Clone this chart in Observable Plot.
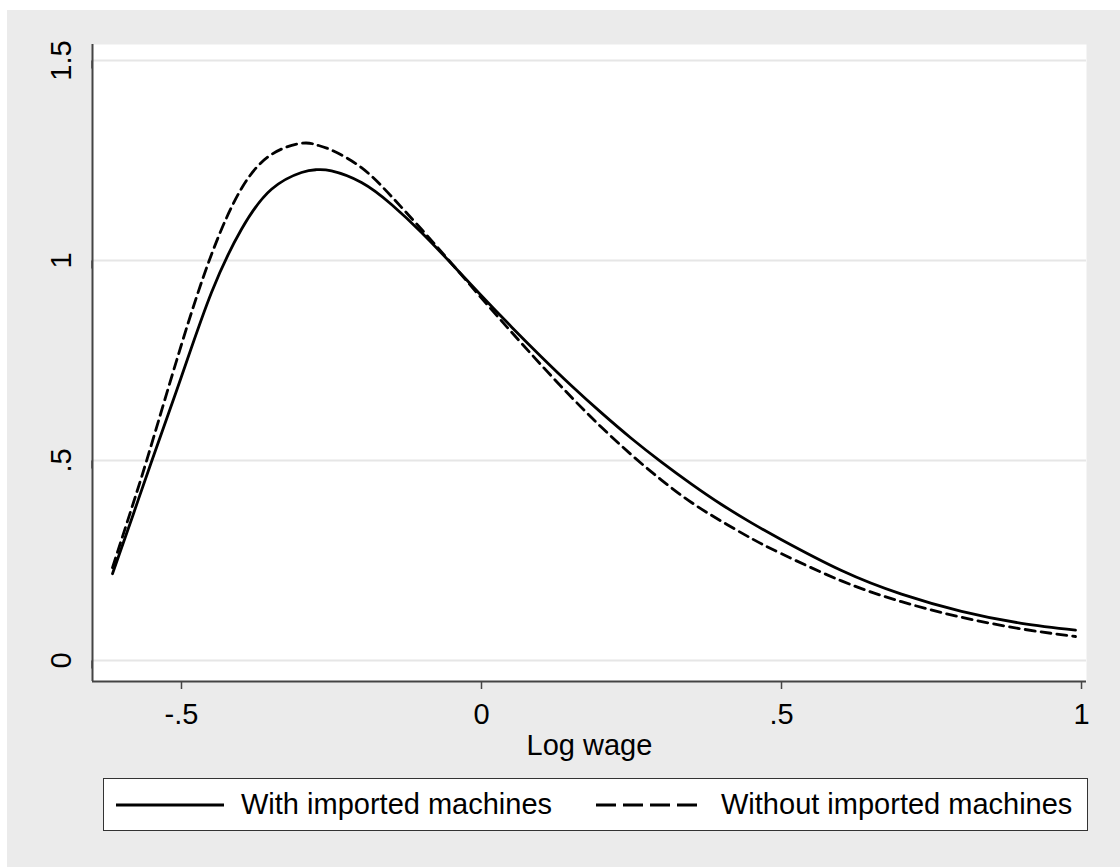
<!DOCTYPE html>
<html>
<head>
<meta charset="utf-8">
<script src="https://cdn.jsdelivr.net/npm/d3@7"></script>
<script src="https://cdn.jsdelivr.net/npm/@observablehq/plot@0.6"></script>
<style>
  html, body { margin: 0; padding: 0; background: #ffffff; }
  #root { position: relative; width: 1120px; height: 867px; overflow: hidden; font-family: Arial, "Liberation Sans", sans-serif; }
  #bg { position: absolute; left: 7px; top: 10px; width: 1113px; height: 857px; background: #ebebeb; }
  #chart { position: absolute; left: 0; top: 0; }
  #legend { position: absolute; left: 103px; top: 778px; width: 983px; height: 51px; background: #fff; border: 1.5px solid #333; }
  .item { position: absolute; top: 0; height: 51px; display: flex; align-items: center; font-size: 29px; color: #000; white-space: nowrap; }
  .item svg { display: block; margin-right: 17px; }
</style>
</head>
<body>
<div id="root">
  <div id="bg"></div>
  <div id="chart"></div>
  <div id="legend"></div>
</div>
<script>
// Log wage grid (x) and kernel density values
const logWage = [-0.615, -0.58, -0.55, -0.5, -0.45, -0.4, -0.35, -0.3, -0.275, -0.25, -0.2, -0.15, -0.1, -0.05, 0, 0.05, 0.1, 0.15, 0.2, 0.25, 0.3, 0.35, 0.4, 0.45, 0.5, 0.6, 0.7, 0.8, 0.9, 0.99];
const withImported = [0.217, 0.367, 0.497, 0.71, 0.92, 1.078, 1.178, 1.22, 1.227, 1.224, 1.195, 1.14, 1.07, 0.992, 0.912, 0.834, 0.759, 0.687, 0.619, 0.555, 0.496, 0.441, 0.39, 0.344, 0.302, 0.225, 0.166, 0.123, 0.093, 0.076];
const withoutImported = [0.232, 0.395, 0.54, 0.79, 1.015, 1.18, 1.265, 1.293, 1.289, 1.276, 1.232, 1.16, 1.078, 0.993, 0.906, 0.821, 0.738, 0.658, 0.583, 0.514, 0.451, 0.395, 0.348, 0.305, 0.267, 0.199, 0.147, 0.108, 0.079, 0.060];
const seriesNames = ["With imported machines", "Without imported machines"];
const xTicks = [-0.5, 0, 0.5, 1];
const yTicks = [0, 0.5, 1, 1.5];
const xDomain = [-0.6483, 1.0083];
const yDomain = [-0.0525, 1.54];

const fmt = d => d === 0 ? "0" : String(d).replace("0.", ".");

const rows = [];
logWage.forEach((x, i) => {
  rows.push({x, y: withImported[i], s: seriesNames[0]});
  rows.push({x, y: withoutImported[i], s: seriesNames[1]});
});
const solid = rows.filter(r => r.s === seriesNames[0]);
const dashed = rows.filter(r => r.s === seriesNames[1]);

const font = "Arial, 'Liberation Sans', sans-serif";

const chart = Plot.plot({
  width: 1120,
  height: 770,
  marginLeft: 92,
  marginRight: 34,
  marginTop: 44,
  marginBottom: 89,
  style: { background: "transparent", fontFamily: font, fontSize: "29px", color: "#000", overflow: "visible" },
  x: { domain: xDomain, ticks: xTicks },
  y: { domain: yDomain, ticks: yTicks },
  marks: [
    Plot.frame({ fill: "#ffffff", stroke: null }),
    Plot.gridY(yTicks, { stroke: "#e6e6e6", strokeOpacity: 1, strokeWidth: 2 }),
    Plot.axisX({
      ticks: xTicks, tickFormat: fmt, tickSize: 8, tickPadding: 14, fontSize: 29,
      stroke: "#444", strokeWidth: 1.5, label: "Log wage", labelAnchor: "center", labelOffset: 73, labelArrow: "none"
    }),
    Plot.axisY({
      ticks: yTicks, tickFormat: fmt, tickSize: 8, tickPadding: 14, fontSize: 29,
      rotate: -90, textAnchor: "middle", lineAnchor: "bottom", stroke: "#444", strokeWidth: 1.5, label: null
    }),
    Plot.ruleX([xDomain[0]], { stroke: "#444", strokeWidth: 2 }),
    Plot.ruleY([yDomain[0]], { stroke: "#444", strokeWidth: 2 }),
    Plot.line(solid, { x: "x", y: "y", stroke: "#000", strokeWidth: 2.8, curve: "natural" }),
    Plot.line(dashed, { x: "x", y: "y", stroke: "#000", strokeWidth: 2.8, strokeDasharray: "10,6", curve: "natural" })
  ]
});
document.getElementById("chart").appendChild(chart);

// Legend
const legend = document.getElementById("legend");
const items = [
  { name: seriesNames[0], left: 12, dash: null },
  { name: seriesNames[1], left: 492, dash: "20,7" }
];
items.forEach(it => {
  const div = document.createElement("div");
  div.className = "item";
  div.style.left = it.left + "px";
  const ns = "http://www.w3.org/2000/svg";
  const svg = document.createElementNS(ns, "svg");
  svg.setAttribute("width", 108);
  svg.setAttribute("height", 10);
  const ln = document.createElementNS(ns, "line");
  ln.setAttribute("x1", 0); ln.setAttribute("x2", 110);
  ln.setAttribute("y1", 5); ln.setAttribute("y2", 5);
  ln.setAttribute("stroke", "#000"); ln.setAttribute("stroke-width", 2.8);
  if (it.dash) ln.setAttribute("stroke-dasharray", it.dash);
  svg.appendChild(ln);
  div.appendChild(svg);
  const span = document.createElement("span");
  span.textContent = it.name;
  div.appendChild(span);
  legend.appendChild(div);
});
</script>
</body>
</html>
